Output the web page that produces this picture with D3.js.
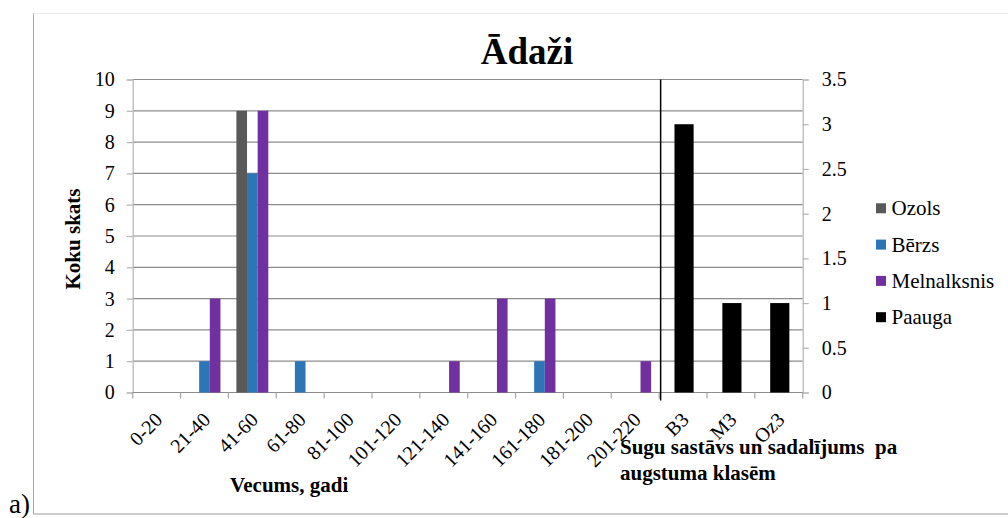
<!DOCTYPE html>
<html>
<head>
<meta charset="utf-8">
<script src="https://cdn.jsdelivr.net/npm/d3@7"></script>
<style>
  html, body { margin: 0; padding: 0; background: #fff; }
  svg { display: block; }
</style>
</head>
<body>
<svg id="chart" width="1008" height="518"></svg>
<script>
// ---- data ----
const ageCategories = ["0-20","21-40","41-60","61-80","81-100","101-120","121-140","141-160","161-180","181-200","201-220"];
const heightCategories = ["B3","M3","Oz3"];
const seriesNames = ["Ozols","Bērzs","Melnalksnis","Paauga"];
const seriesColors = ["#595959","#2e75b6","#7030a0","#000000"];
const ozols       = [0,0,9,0,0,0,0,0,0,0,0];
const berzs       = [0,1,7,1,0,0,0,0,1,0,0];
const melnalksnis = [0,3,9,0,0,0,1,3,3,0,1];
const paauga      = [3,1,1];
const leftTicks  = [0,1,2,3,4,5,6,7,8,9,10];
const rightTicks = [0,0.5,1,1.5,2,2.5,3,3.5];
const titleText = "Ādaži";
const yTitle = "Koku skats";
const xTitle1 = "Vecums, gadi";
const xTitle2 = ["Sugu sastāvs un sadalījums\u00a0 pa", "augstuma klasēm"];

// ---- layout ----
const FONT = '"Times New Roman"';
const svg = d3.select("#chart");
const X0 = 132.7, X1 = 802.7, Y0 = 392.5, Y1 = 79.5;
const allCats = ageCategories.concat(heightCategories);

const x = d3.scaleBand().domain(allCats).range([X0, X1]).paddingInner(0).paddingOuter(0);
const yL = d3.scaleLinear().domain([0,10]).range([Y0, Y1]);
const yR = d3.scaleLinear().domain([0,3.5]).range([Y0, Y1]);
const bw = x.bandwidth();

// frame
svg.append("line").attr("x1",33.5).attr("x2",33.5).attr("y1",13).attr("y2",514).attr("stroke","#a6a6a6");
svg.append("line").attr("x1",33.5).attr("x2",1008).attr("y1",13.5).attr("y2",13.5).attr("stroke","#ececec");
svg.append("line").attr("x1",33.5).attr("x2",1008).attr("y1",514).attr("y2",514).attr("stroke","#9a9a9a");

// gridlines
svg.append("g").selectAll("line").data(leftTicks.slice(1)).join("line")
  .attr("x1",X0).attr("x2",X1).attr("y1",d=>yL(d)).attr("y2",d=>yL(d))
  .attr("stroke","#8c8c8c").attr("stroke-width",1.2);

// left axis
const gL = svg.append("g").attr("transform",`translate(${X0},0)`)
  .call(d3.axisLeft(yL).tickValues(leftTicks).tickSize(6).tickPadding(12).tickFormat(d3.format("d")));
gL.select(".domain").attr("stroke","#b4b4b4").attr("stroke-width",1.2);
gL.selectAll(".tick line").attr("stroke","#b4b4b4").attr("stroke-width",1.2);
gL.selectAll("text").style("font-family",FONT).attr("font-size",20).attr("fill","#000");

// right axis
const gR = svg.append("g").attr("transform",`translate(${X1},0)`)
  .call(d3.axisRight(yR).tickValues(rightTicks).tickSize(6).tickPadding(13).tickFormat(d=>String(d)));
gR.select(".domain").attr("stroke","#b4b4b4").attr("stroke-width",1.2);
gR.selectAll(".tick line").attr("stroke","#b4b4b4").attr("stroke-width",1.2);
gR.selectAll("text").style("font-family",FONT).attr("font-size",20).attr("fill","#000");

// bottom axis line + ticks at category boundaries
svg.append("line").attr("x1",X0).attr("x2",X1).attr("y1",Y0).attr("y2",Y0).attr("stroke","#8c8c8c").attr("stroke-width",1.2);
const boundaries = allCats.map(c=>x(c)).concat([X1]);
svg.append("g").selectAll("line").data(boundaries).join("line")
  .attr("x1",d=>d).attr("x2",d=>d).attr("y1",Y0).attr("y2",Y0+6)
  .attr("stroke","#a6a6a6").attr("stroke-width",1.2);

// bars (primary series)
const barW = bw/4.5;
const leftSeries = [ozols, berzs, melnalksnis];
leftSeries.forEach((vals, si) => {
  svg.append("g").selectAll("rect").data(vals.map((v,i)=>({c:ageCategories[i], v})).filter(d=>d.v>0)).join("rect")
    .attr("x", d => x(d.c) + bw*0.5 - 1.5*barW + si*barW)
    .attr("width", barW)
    .attr("y", d => yL(d.v))
    .attr("height", d => Y0 - yL(d.v))
    .attr("fill", seriesColors[si]);
});

// Paauga (secondary)
const pW = bw/2.5;
svg.append("g").selectAll("rect").data(paauga.map((v,i)=>({c:heightCategories[i], v}))).join("rect")
  .attr("x", d => x(d.c) + bw/2 - pW/2 + 1)
  .attr("width", pW)
  .attr("y", d => yR(d.v))
  .attr("height", d => Y0 - yR(d.v))
  .attr("fill", seriesColors[3]);

// separator line
svg.append("line").attr("x1", x(heightCategories[0])+1.5).attr("x2", x(heightCategories[0])+1.5)
  .attr("y1", Y1).attr("y2", Y0+8).attr("stroke","#000").attr("stroke-width",1.5);

// x labels rotated
svg.append("g").selectAll("text").data(allCats).join("text")
  .attr("transform", d => `translate(${x(d)+bw/2+7},${421}) rotate(-45)`)
  .attr("text-anchor","end").style("font-family",FONT)
  .attr("font-size",20).attr("fill","#000")
  .text(d=>d);

// title
svg.append("text").attr("x",527).attr("y",64).attr("text-anchor","middle").style("font-family",FONT)
  .attr("font-size",37).attr("font-weight","bold").text(titleText);

// y title
svg.append("text").attr("transform","translate(80,239) rotate(-90)").attr("text-anchor","middle").style("font-family",FONT)
  .attr("font-size",21).attr("font-weight","bold").text(yTitle);

// x titles
svg.append("text").attr("x",230).attr("y",492).style("font-family",FONT).attr("font-size",21).attr("font-weight","bold").text(xTitle1);
svg.append("text").attr("x",620).attr("y",454).style("font-family",FONT).attr("font-size",21).attr("font-weight","bold").text(xTitle2[0]);
svg.append("text").attr("x",620).attr("y",480).style("font-family",FONT).attr("font-size",21).attr("font-weight","bold").text(xTitle2[1]);

// legend
const lg = svg.append("g");
seriesNames.forEach((n,i) => {
  const cy = 208.3 + i*36.3;
  lg.append("rect").attr("x",876).attr("y",cy-5).attr("width",10).attr("height",10).attr("fill",seriesColors[i]);
  lg.append("text").attr("x",891.5).attr("y",cy+7).style("font-family",FONT).attr("font-size",21).attr("fill","#000").text(n);
});

// a)
svg.append("text").attr("x",9).attr("y",513).style("font-family",FONT).attr("font-size",27).attr("fill","#000").text("a)");
</script>
</body>
</html>
